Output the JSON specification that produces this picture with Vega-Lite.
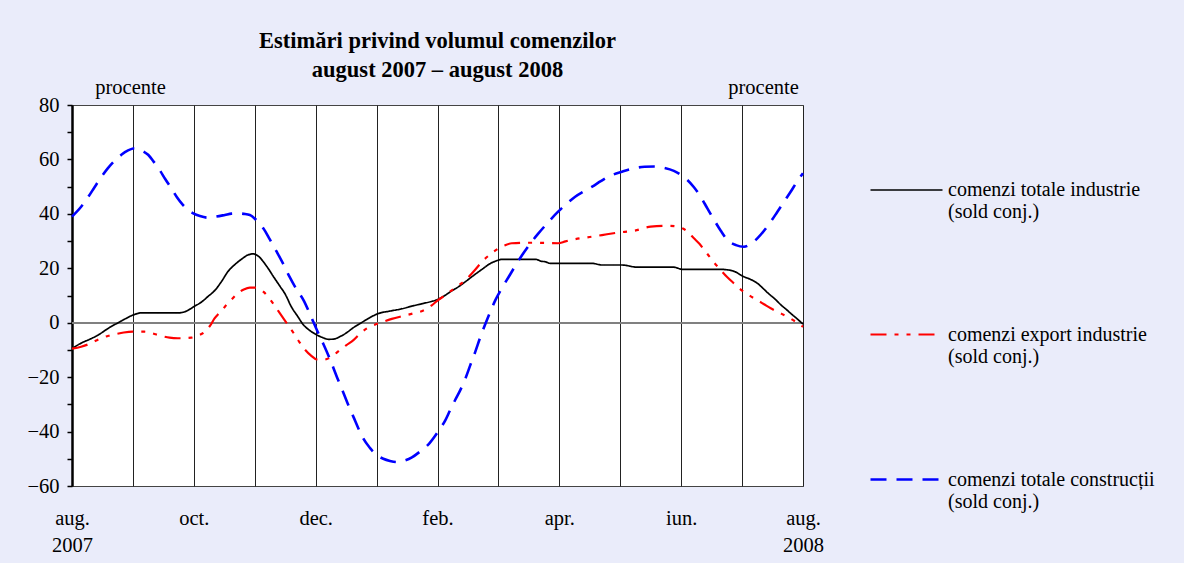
{
  "$schema": "https://vega.github.io/schema/vega-lite/v6.json",
  "autosize": {"type": "none"},
  "width": 731,
  "height": 381,
  "padding": {"left": 72, "top": 105, "right": 381, "bottom": 77},
  "background": "#eaecfa",
  "config": {
    "font": "Liberation Serif",
    "view": {"fill": "white", "stroke": "#444444", "strokeWidth": 1},
    "axis": {"labelFont": "Liberation Serif", "titleFont": "Liberation Serif", "labelFontSize": 20.5, "titleFontSize": 20.5, "labelColor": "black", "titleColor": "black", "titleFontWeight": "normal"},
    "legend": {"labelFont": "Liberation Serif", "labelFontSize": 20, "labelColor": "black"}
  },
  "title": {
    "text": ["Estimări privind volumul comenzilor", "august 2007 – august 2008"],
    "font": "Liberation Serif",
    "fontSize": 22.5,
    "fontWeight": "bold",
    "color": "black",
    "anchor": "middle",
    "frame": "group",
    "lineHeight": 29,
    "offset": -4
  },
  "data": {"values": [
    {"t":0,"s":"comenzi totale industrie (sold conj.)","v":-9.5},{"t":0.15,"s":"comenzi totale industrie (sold conj.)","v":-7.5},{"t":0.3,"s":"comenzi totale industrie (sold conj.)","v":-6},{"t":0.43,"s":"comenzi totale industrie (sold conj.)","v":-4.5},{"t":0.6,"s":"comenzi totale industrie (sold conj.)","v":-2},{"t":0.8,"s":"comenzi totale industrie (sold conj.)","v":0.5},{"t":1.0,"s":"comenzi totale industrie (sold conj.)","v":2.8},{"t":1.13,"s":"comenzi totale industrie (sold conj.)","v":3.6},{"t":1.74,"s":"comenzi totale industrie (sold conj.)","v":3.6},{"t":1.9,"s":"comenzi totale industrie (sold conj.)","v":4.5},{"t":2.0,"s":"comenzi totale industrie (sold conj.)","v":5.9},{"t":2.12,"s":"comenzi totale industrie (sold conj.)","v":7.5},{"t":2.23,"s":"comenzi totale industrie (sold conj.)","v":9.6},{"t":2.35,"s":"comenzi totale industrie (sold conj.)","v":12},{"t":2.45,"s":"comenzi totale industrie (sold conj.)","v":15},{"t":2.56,"s":"comenzi totale industrie (sold conj.)","v":18.8},{"t":2.68,"s":"comenzi totale industrie (sold conj.)","v":21.5},{"t":2.78,"s":"comenzi totale industrie (sold conj.)","v":23.3},{"t":2.9,"s":"comenzi totale industrie (sold conj.)","v":25},{"t":2.98,"s":"comenzi totale industrie (sold conj.)","v":25.3},{"t":3.05,"s":"comenzi totale industrie (sold conj.)","v":24.6},{"t":3.2,"s":"comenzi totale industrie (sold conj.)","v":20.6},{"t":3.32,"s":"comenzi totale industrie (sold conj.)","v":16.5},{"t":3.42,"s":"comenzi totale industrie (sold conj.)","v":13.2},{"t":3.5,"s":"comenzi totale industrie (sold conj.)","v":10.5},{"t":3.6,"s":"comenzi totale industrie (sold conj.)","v":5.9},{"t":3.7,"s":"comenzi totale industrie (sold conj.)","v":2.5},{"t":3.8,"s":"comenzi totale industrie (sold conj.)","v":-0.8},{"t":3.9,"s":"comenzi totale industrie (sold conj.)","v":-2.8},{"t":4.02,"s":"comenzi totale industrie (sold conj.)","v":-4.5},{"t":4.12,"s":"comenzi totale industrie (sold conj.)","v":-5.5},{"t":4.21,"s":"comenzi totale industrie (sold conj.)","v":-6.1},{"t":4.3,"s":"comenzi totale industrie (sold conj.)","v":-6},{"t":4.4,"s":"comenzi totale industrie (sold conj.)","v":-5.1},{"t":4.5,"s":"comenzi totale industrie (sold conj.)","v":-3.8},{"t":4.62,"s":"comenzi totale industrie (sold conj.)","v":-1.8},{"t":4.75,"s":"comenzi totale industrie (sold conj.)","v":0},{"t":4.84,"s":"comenzi totale industrie (sold conj.)","v":1.2},{"t":5.03,"s":"comenzi totale industrie (sold conj.)","v":3.4},{"t":5.2,"s":"comenzi totale industrie (sold conj.)","v":4.2},{"t":5.39,"s":"comenzi totale industrie (sold conj.)","v":5},{"t":5.6,"s":"comenzi totale industrie (sold conj.)","v":6.2},{"t":5.77,"s":"comenzi totale industrie (sold conj.)","v":7.1},{"t":5.9,"s":"comenzi totale industrie (sold conj.)","v":7.8},{"t":6.01,"s":"comenzi totale industrie (sold conj.)","v":8.6},{"t":6.12,"s":"comenzi totale industrie (sold conj.)","v":10},{"t":6.24,"s":"comenzi totale industrie (sold conj.)","v":11.8},{"t":6.35,"s":"comenzi totale industrie (sold conj.)","v":13.3},{"t":6.46,"s":"comenzi totale industrie (sold conj.)","v":15.1},{"t":6.6,"s":"comenzi totale industrie (sold conj.)","v":17.5},{"t":6.73,"s":"comenzi totale industrie (sold conj.)","v":19.6},{"t":6.87,"s":"comenzi totale industrie (sold conj.)","v":21.8},{"t":6.95,"s":"comenzi totale industrie (sold conj.)","v":22.6},{"t":7.06,"s":"comenzi totale industrie (sold conj.)","v":23.3},{"t":7.61,"s":"comenzi totale industrie (sold conj.)","v":23.3},{"t":7.7,"s":"comenzi totale industrie (sold conj.)","v":22.6},{"t":7.77,"s":"comenzi totale industrie (sold conj.)","v":22.4},{"t":7.85,"s":"comenzi totale industrie (sold conj.)","v":21.8},{"t":8.54,"s":"comenzi totale industrie (sold conj.)","v":21.8},{"t":8.7,"s":"comenzi totale industrie (sold conj.)","v":21.2},{"t":9.03,"s":"comenzi totale industrie (sold conj.)","v":21.2},{"t":9.28,"s":"comenzi totale industrie (sold conj.)","v":20.4},{"t":9.88,"s":"comenzi totale industrie (sold conj.)","v":20.4},{"t":10.02,"s":"comenzi totale industrie (sold conj.)","v":19.6},{"t":10.65,"s":"comenzi totale industrie (sold conj.)","v":19.6},{"t":10.84,"s":"comenzi totale industrie (sold conj.)","v":19.1},{"t":11.03,"s":"comenzi totale industrie (sold conj.)","v":16.9},{"t":11.15,"s":"comenzi totale industrie (sold conj.)","v":15.8},{"t":11.25,"s":"comenzi totale industrie (sold conj.)","v":14.5},{"t":11.35,"s":"comenzi totale industrie (sold conj.)","v":12.5},{"t":11.42,"s":"comenzi totale industrie (sold conj.)","v":11},{"t":11.55,"s":"comenzi totale industrie (sold conj.)","v":8.5},{"t":11.64,"s":"comenzi totale industrie (sold conj.)","v":6.5},{"t":11.72,"s":"comenzi totale industrie (sold conj.)","v":5},{"t":11.8,"s":"comenzi totale industrie (sold conj.)","v":3.4},{"t":11.9,"s":"comenzi totale industrie (sold conj.)","v":1.5},{"t":12,"s":"comenzi totale industrie (sold conj.)","v":-0.5},
    {"t":0,"s":"comenzi export industrie (sold conj.)","v":-9.5},{"t":0.15,"s":"comenzi export industrie (sold conj.)","v":-8.8},{"t":0.26,"s":"comenzi export industrie (sold conj.)","v":-8},{"t":0.4,"s":"comenzi export industrie (sold conj.)","v":-6.5},{"t":0.48,"s":"comenzi export industrie (sold conj.)","v":-5.7},{"t":0.6,"s":"comenzi export industrie (sold conj.)","v":-4.8},{"t":0.7,"s":"comenzi export industrie (sold conj.)","v":-4.3},{"t":0.85,"s":"comenzi export industrie (sold conj.)","v":-3.6},{"t":1.0,"s":"comenzi export industrie (sold conj.)","v":-3.3},{"t":1.19,"s":"comenzi export industrie (sold conj.)","v":-3.3},{"t":1.3,"s":"comenzi export industrie (sold conj.)","v":-3.8},{"t":1.47,"s":"comenzi export industrie (sold conj.)","v":-4.9},{"t":1.6,"s":"comenzi export industrie (sold conj.)","v":-5.5},{"t":1.74,"s":"comenzi export industrie (sold conj.)","v":-5.7},{"t":1.96,"s":"comenzi export industrie (sold conj.)","v":-5.5},{"t":2.08,"s":"comenzi export industrie (sold conj.)","v":-4.6},{"t":2.18,"s":"comenzi export industrie (sold conj.)","v":-3.3},{"t":2.27,"s":"comenzi export industrie (sold conj.)","v":-1},{"t":2.34,"s":"comenzi export industrie (sold conj.)","v":1.6},{"t":2.42,"s":"comenzi export industrie (sold conj.)","v":3.6},{"t":2.51,"s":"comenzi export industrie (sold conj.)","v":5.9},{"t":2.62,"s":"comenzi export industrie (sold conj.)","v":8.5},{"t":2.72,"s":"comenzi export industrie (sold conj.)","v":10.8},{"t":2.82,"s":"comenzi export industrie (sold conj.)","v":12.2},{"t":2.92,"s":"comenzi export industrie (sold conj.)","v":12.9},{"t":3.0,"s":"comenzi export industrie (sold conj.)","v":12.9},{"t":3.08,"s":"comenzi export industrie (sold conj.)","v":12.3},{"t":3.14,"s":"comenzi export industrie (sold conj.)","v":11.4},{"t":3.22,"s":"comenzi export industrie (sold conj.)","v":9.5},{"t":3.3,"s":"comenzi export industrie (sold conj.)","v":7.1},{"t":3.38,"s":"comenzi export industrie (sold conj.)","v":4.5},{"t":3.47,"s":"comenzi export industrie (sold conj.)","v":1.6},{"t":3.55,"s":"comenzi export industrie (sold conj.)","v":-1},{"t":3.64,"s":"comenzi export industrie (sold conj.)","v":-3.9},{"t":3.73,"s":"comenzi export industrie (sold conj.)","v":-7},{"t":3.83,"s":"comenzi export industrie (sold conj.)","v":-10},{"t":3.92,"s":"comenzi export industrie (sold conj.)","v":-12},{"t":4.02,"s":"comenzi export industrie (sold conj.)","v":-13.5},{"t":4.12,"s":"comenzi export industrie (sold conj.)","v":-13.6},{"t":4.21,"s":"comenzi export industrie (sold conj.)","v":-13.1},{"t":4.3,"s":"comenzi export industrie (sold conj.)","v":-11.8},{"t":4.4,"s":"comenzi export industrie (sold conj.)","v":-10},{"t":4.5,"s":"comenzi export industrie (sold conj.)","v":-8.3},{"t":4.62,"s":"comenzi export industrie (sold conj.)","v":-6.4},{"t":4.73,"s":"comenzi export industrie (sold conj.)","v":-4},{"t":4.84,"s":"comenzi export industrie (sold conj.)","v":-2.1},{"t":5.0,"s":"comenzi export industrie (sold conj.)","v":-0.5},{"t":5.11,"s":"comenzi export industrie (sold conj.)","v":0.4},{"t":5.25,"s":"comenzi export industrie (sold conj.)","v":1.4},{"t":5.44,"s":"comenzi export industrie (sold conj.)","v":2.5},{"t":5.6,"s":"comenzi export industrie (sold conj.)","v":3.4},{"t":5.71,"s":"comenzi export industrie (sold conj.)","v":4},{"t":5.8,"s":"comenzi export industrie (sold conj.)","v":4.8},{"t":5.9,"s":"comenzi export industrie (sold conj.)","v":6.3},{"t":6.01,"s":"comenzi export industrie (sold conj.)","v":8.3},{"t":6.12,"s":"comenzi export industrie (sold conj.)","v":10},{"t":6.24,"s":"comenzi export industrie (sold conj.)","v":12},{"t":6.35,"s":"comenzi export industrie (sold conj.)","v":13.8},{"t":6.46,"s":"comenzi export industrie (sold conj.)","v":15.7},{"t":6.6,"s":"comenzi export industrie (sold conj.)","v":19},{"t":6.73,"s":"comenzi export industrie (sold conj.)","v":22.4},{"t":6.87,"s":"comenzi export industrie (sold conj.)","v":25.2},{"t":7.0,"s":"comenzi export industrie (sold conj.)","v":27.3},{"t":7.1,"s":"comenzi export industrie (sold conj.)","v":28.4},{"t":7.22,"s":"comenzi export industrie (sold conj.)","v":29.2},{"t":7.55,"s":"comenzi export industrie (sold conj.)","v":29.4},{"t":7.98,"s":"comenzi export industrie (sold conj.)","v":29.2},{"t":8.1,"s":"comenzi export industrie (sold conj.)","v":29.9},{"t":8.26,"s":"comenzi export industrie (sold conj.)","v":30.7},{"t":8.5,"s":"comenzi export industrie (sold conj.)","v":31.5},{"t":8.7,"s":"comenzi export industrie (sold conj.)","v":32.2},{"t":9.03,"s":"comenzi export industrie (sold conj.)","v":33.3},{"t":9.23,"s":"comenzi export industrie (sold conj.)","v":33.8},{"t":9.5,"s":"comenzi export industrie (sold conj.)","v":35.3},{"t":9.8,"s":"comenzi export industrie (sold conj.)","v":35.6},{"t":9.94,"s":"comenzi export industrie (sold conj.)","v":35.3},{"t":10.03,"s":"comenzi export industrie (sold conj.)","v":34.6},{"t":10.1,"s":"comenzi export industrie (sold conj.)","v":33.5},{"t":10.21,"s":"comenzi export industrie (sold conj.)","v":31},{"t":10.3,"s":"comenzi export industrie (sold conj.)","v":29},{"t":10.37,"s":"comenzi export industrie (sold conj.)","v":27},{"t":10.45,"s":"comenzi export industrie (sold conj.)","v":24.7},{"t":10.53,"s":"comenzi export industrie (sold conj.)","v":22.4},{"t":10.64,"s":"comenzi export industrie (sold conj.)","v":19.6},{"t":10.75,"s":"comenzi export industrie (sold conj.)","v":16.9},{"t":10.88,"s":"comenzi export industrie (sold conj.)","v":14.2},{"t":11.0,"s":"comenzi export industrie (sold conj.)","v":11.8},{"t":11.12,"s":"comenzi export industrie (sold conj.)","v":10},{"t":11.25,"s":"comenzi export industrie (sold conj.)","v":8.3},{"t":11.36,"s":"comenzi export industrie (sold conj.)","v":6.8},{"t":11.47,"s":"comenzi export industrie (sold conj.)","v":5.3},{"t":11.6,"s":"comenzi export industrie (sold conj.)","v":3.8},{"t":11.74,"s":"comenzi export industrie (sold conj.)","v":2.2},{"t":11.87,"s":"comenzi export industrie (sold conj.)","v":0.5},{"t":12,"s":"comenzi export industrie (sold conj.)","v":-1.5},
    {"t":0,"s":"comenzi totale construcții (sold conj.)","v":39},{"t":0.15,"s":"comenzi totale construcții (sold conj.)","v":42.6},{"t":0.26,"s":"comenzi totale construcții (sold conj.)","v":46},{"t":0.37,"s":"comenzi totale construcții (sold conj.)","v":49.8},{"t":0.48,"s":"comenzi totale construcții (sold conj.)","v":53.5},{"t":0.59,"s":"comenzi totale construcții (sold conj.)","v":56.8},{"t":0.7,"s":"comenzi totale construcții (sold conj.)","v":59.5},{"t":0.81,"s":"comenzi totale construcții (sold conj.)","v":61.7},{"t":0.92,"s":"comenzi totale construcții (sold conj.)","v":63.3},{"t":1.03,"s":"comenzi totale construcții (sold conj.)","v":64.1},{"t":1.14,"s":"comenzi totale construcții (sold conj.)","v":63.3},{"t":1.25,"s":"comenzi totale construcții (sold conj.)","v":61.7},{"t":1.34,"s":"comenzi totale construcții (sold conj.)","v":59.2},{"t":1.44,"s":"comenzi totale construcții (sold conj.)","v":56.1},{"t":1.53,"s":"comenzi totale construcții (sold conj.)","v":52.8},{"t":1.63,"s":"comenzi totale construcții (sold conj.)","v":49.4},{"t":1.72,"s":"comenzi totale construcții (sold conj.)","v":46.2},{"t":1.82,"s":"comenzi totale construcții (sold conj.)","v":43.3},{"t":1.9,"s":"comenzi totale construcții (sold conj.)","v":41.5},{"t":1.99,"s":"comenzi totale construcții (sold conj.)","v":40.2},{"t":2.1,"s":"comenzi totale construcții (sold conj.)","v":39.2},{"t":2.23,"s":"comenzi totale construcții (sold conj.)","v":38.6},{"t":2.37,"s":"comenzi totale construcții (sold conj.)","v":39},{"t":2.51,"s":"comenzi totale construcții (sold conj.)","v":39.6},{"t":2.62,"s":"comenzi totale construcții (sold conj.)","v":40.1},{"t":2.72,"s":"comenzi totale construcții (sold conj.)","v":40.2},{"t":2.82,"s":"comenzi totale construcții (sold conj.)","v":40},{"t":2.92,"s":"comenzi totale construcții (sold conj.)","v":39.6},{"t":3.05,"s":"comenzi totale construcții (sold conj.)","v":37.1},{"t":3.14,"s":"comenzi totale construcții (sold conj.)","v":34.7},{"t":3.25,"s":"comenzi totale construcții (sold conj.)","v":30.5},{"t":3.36,"s":"comenzi totale construcții (sold conj.)","v":26.1},{"t":3.47,"s":"comenzi totale construcții (sold conj.)","v":21.5},{"t":3.57,"s":"comenzi totale construcții (sold conj.)","v":16.9},{"t":3.68,"s":"comenzi totale construcții (sold conj.)","v":12.5},{"t":3.8,"s":"comenzi totale construcții (sold conj.)","v":8.3},{"t":3.91,"s":"comenzi totale construcții (sold conj.)","v":3},{"t":4.02,"s":"comenzi totale construcții (sold conj.)","v":-2.7},{"t":4.13,"s":"comenzi totale construcții (sold conj.)","v":-8},{"t":4.24,"s":"comenzi totale construcții (sold conj.)","v":-13.7},{"t":4.35,"s":"comenzi totale construcții (sold conj.)","v":-20},{"t":4.46,"s":"comenzi totale construcții (sold conj.)","v":-26},{"t":4.54,"s":"comenzi totale construcții (sold conj.)","v":-30.5},{"t":4.62,"s":"comenzi totale construcții (sold conj.)","v":-34.6},{"t":4.7,"s":"comenzi totale construcții (sold conj.)","v":-38.8},{"t":4.78,"s":"comenzi totale construcții (sold conj.)","v":-42.5},{"t":4.89,"s":"comenzi totale construcții (sold conj.)","v":-46},{"t":5.0,"s":"comenzi totale construcții (sold conj.)","v":-48.6},{"t":5.11,"s":"comenzi totale construcții (sold conj.)","v":-50},{"t":5.22,"s":"comenzi totale construcții (sold conj.)","v":-50.8},{"t":5.33,"s":"comenzi totale construcții (sold conj.)","v":-51.2},{"t":5.44,"s":"comenzi totale construcții (sold conj.)","v":-50.8},{"t":5.58,"s":"comenzi totale construcții (sold conj.)","v":-49.5},{"t":5.71,"s":"comenzi totale construcții (sold conj.)","v":-47.4},{"t":5.86,"s":"comenzi totale construcții (sold conj.)","v":-44.5},{"t":6.01,"s":"comenzi totale construcții (sold conj.)","v":-40},{"t":6.13,"s":"comenzi totale construcții (sold conj.)","v":-35.8},{"t":6.21,"s":"comenzi totale construcții (sold conj.)","v":-32},{"t":6.29,"s":"comenzi totale construcții (sold conj.)","v":-28.4},{"t":6.38,"s":"comenzi totale construcții (sold conj.)","v":-24.5},{"t":6.46,"s":"comenzi totale construcții (sold conj.)","v":-20.4},{"t":6.54,"s":"comenzi totale construcții (sold conj.)","v":-15.5},{"t":6.62,"s":"comenzi totale construcții (sold conj.)","v":-10.7},{"t":6.7,"s":"comenzi totale construcții (sold conj.)","v":-5.5},{"t":6.79,"s":"comenzi totale construcții (sold conj.)","v":-0.2},{"t":6.87,"s":"comenzi totale construcții (sold conj.)","v":4.2},{"t":6.95,"s":"comenzi totale construcții (sold conj.)","v":8.3},{"t":7.06,"s":"comenzi totale construcții (sold conj.)","v":12.8},{"t":7.17,"s":"comenzi totale construcții (sold conj.)","v":16.9},{"t":7.28,"s":"comenzi totale construcții (sold conj.)","v":21},{"t":7.39,"s":"comenzi totale construcții (sold conj.)","v":24.9},{"t":7.52,"s":"comenzi totale construcții (sold conj.)","v":29},{"t":7.66,"s":"comenzi totale construcții (sold conj.)","v":32.9},{"t":7.82,"s":"comenzi totale construcții (sold conj.)","v":37},{"t":7.98,"s":"comenzi totale construcții (sold conj.)","v":40.8},{"t":8.12,"s":"comenzi totale construcții (sold conj.)","v":43.7},{"t":8.26,"s":"comenzi totale construcții (sold conj.)","v":46.3},{"t":8.4,"s":"comenzi totale construcții (sold conj.)","v":48.2},{"t":8.54,"s":"comenzi totale construcții (sold conj.)","v":50},{"t":8.68,"s":"comenzi totale construcții (sold conj.)","v":52},{"t":8.81,"s":"comenzi totale construcții (sold conj.)","v":53.7},{"t":9.03,"s":"comenzi totale construcții (sold conj.)","v":55.5},{"t":9.23,"s":"comenzi totale construcții (sold conj.)","v":56.8},{"t":9.4,"s":"comenzi totale construcții (sold conj.)","v":57.3},{"t":9.56,"s":"comenzi totale construcții (sold conj.)","v":57.4},{"t":9.72,"s":"comenzi totale construcții (sold conj.)","v":56.9},{"t":9.88,"s":"comenzi totale construcții (sold conj.)","v":55.8},{"t":10.0,"s":"comenzi totale construcții (sold conj.)","v":54.3},{"t":10.1,"s":"comenzi totale construcții (sold conj.)","v":52.5},{"t":10.21,"s":"comenzi totale construcții (sold conj.)","v":49.8},{"t":10.32,"s":"comenzi totale construcții (sold conj.)","v":46.3},{"t":10.43,"s":"comenzi totale construcții (sold conj.)","v":42},{"t":10.54,"s":"comenzi totale construcții (sold conj.)","v":37.8},{"t":10.65,"s":"comenzi totale construcții (sold conj.)","v":33.8},{"t":10.76,"s":"comenzi totale construcții (sold conj.)","v":30.4},{"t":10.9,"s":"comenzi totale construcții (sold conj.)","v":28.5},{"t":11.03,"s":"comenzi totale construcții (sold conj.)","v":27.9},{"t":11.14,"s":"comenzi totale construcții (sold conj.)","v":29},{"t":11.25,"s":"comenzi totale construcții (sold conj.)","v":31},{"t":11.36,"s":"comenzi totale construcții (sold conj.)","v":33.8},{"t":11.47,"s":"comenzi totale construcții (sold conj.)","v":37.1},{"t":11.58,"s":"comenzi totale construcții (sold conj.)","v":40.8},{"t":11.69,"s":"comenzi totale construcții (sold conj.)","v":44.5},{"t":11.8,"s":"comenzi totale construcții (sold conj.)","v":48.2},{"t":11.9,"s":"comenzi totale construcții (sold conj.)","v":51.8},{"t":12,"s":"comenzi totale construcții (sold conj.)","v":54.9}
  ]},
  "layer": [
    {
      "mark": {"type": "rule", "color": "#808080", "strokeWidth": 1.5},
      "encoding": {
        "y": {"datum": 0, "type": "quantitative", "scale": {"domain": [-60, 80], "nice": false},
          "axis": {"orient": "right", "labels": false, "ticks": false, "domain": false, "grid": false, "title": "procente", "titleAngle": 0, "titleAlign": "center", "titleBaseline": "alphabetic", "titleX": -40, "titleY": -12}}
      }
    },
    {
      "mark": {"type": "line", "interpolate": "monotone"},
      "encoding": {
        "x": {"field": "t", "type": "quantitative", "scale": {"domain": [0, 12], "nice": false},
          "axis": {"values": [0,1,2,3,4,5,6,7,8,9,10,11,12], "grid": true, "gridColor": "#222222", "gridWidth": 1, "ticks": false, "domain": false, "title": null, "labelOverlap": false, "labelFlush": false, "labelAlign": "center", "labelPadding": 22, "labelBaseline": "top", "labelLineHeight": 27,
            "labelExpr": "datum.value == 0 ? ['aug.', '2007'] : datum.value == 12 ? ['aug.', '2008'] : datum.value == 2 ? 'oct.' : datum.value == 4 ? 'dec.' : datum.value == 6 ? 'feb.' : datum.value == 8 ? 'apr.' : datum.value == 10 ? 'iun.' : ''"}},
        "y": {"field": "v", "type": "quantitative", "scale": {"domain": [-60, 80], "nice": false},
          "axis": {"values": [-60,-50,-40,-30,-20,-10,0,10,20,30,40,50,60,70,80], "grid": false, "domainColor": "black", "domainWidth": 2.5, "tickColor": "black", "tickWidth": 1.5, "tickSize": 5, "labelPadding": 8,
            "labelExpr": "datum.value % 20 == 0 ? datum.label : ''", "title": "procente", "titleAngle": 0, "titleAlign": "center", "titleBaseline": "alphabetic", "titleX": 58, "titleY": -12}},
        "color": {"field": "s", "type": "nominal",
          "scale": {"domain": ["comenzi totale industrie (sold conj.)", "comenzi export industrie (sold conj.)", "comenzi totale construcții (sold conj.)"], "range": ["#000000", "#ff0000", "#0000ff"]},
          "legend": {"orient": "none", "legendX": 797, "legendY": 48, "title": null, "symbolType": "stroke", "symbolSize": 5184, "symbolStrokeWidth": 2.5, "labelOffset": 4, "rowPadding": 75, "padding": 0, "labelLimit": 400, "labelBaseline": "middle", "labelLineHeight": 26,
            "labelExpr": "[replace(datum.label, ' (sold conj.)', ''), '(sold conj.)']"}},
        "strokeDash": {"field": "s", "type": "nominal",
          "scale": {"domain": ["comenzi totale industrie (sold conj.)", "comenzi export industrie (sold conj.)", "comenzi totale construcții (sold conj.)"], "range": [[1, 0], [16, 8, 4, 8, 4, 8], [16, 10]]},
          "legend": {"orient": "none", "legendX": 797, "legendY": 48, "title": null, "symbolType": "stroke", "symbolSize": 5184, "symbolStrokeWidth": 2.5, "labelOffset": 4, "rowPadding": 75, "padding": 0, "labelLimit": 400, "labelBaseline": "middle", "labelLineHeight": 26,
            "labelExpr": "[replace(datum.label, ' (sold conj.)', ''), '(sold conj.)']"}},
        "strokeWidth": {"field": "s", "type": "nominal",
          "scale": {"domain": ["comenzi totale industrie (sold conj.)", "comenzi export industrie (sold conj.)", "comenzi totale construcții (sold conj.)"], "range": [1.7, 2.6, 2.6]},
          "legend": null}
      }
    }
  ],
  "resolve": {"scale": {"y": "independent"}}
}
